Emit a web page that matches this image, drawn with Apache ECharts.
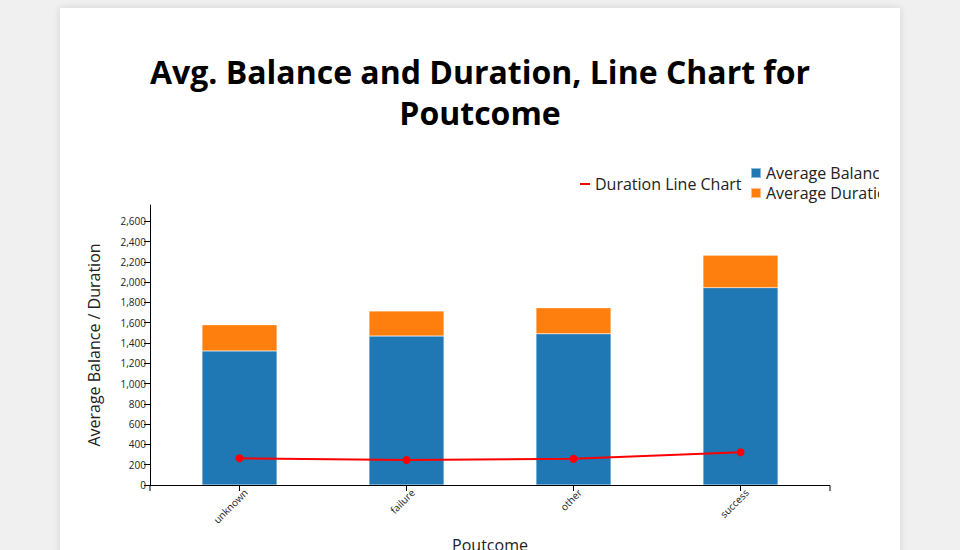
<!DOCTYPE html>
<html><head><meta charset="utf-8">
<script src="https://cdn.jsdelivr.net/npm/echarts@6/dist/echarts.min.js"></script>
<style>
html,body{margin:0;padding:0;width:960px;height:550px;background:#f0f0f0;overflow:hidden;font-family:"Open Sans",sans-serif;}
#card{position:absolute;left:60px;top:8px;width:840px;height:560px;background:#fff;box-shadow:0 0 8px rgba(0,0,0,0.12);}
#chart{position:absolute;left:0;top:0;width:960px;height:550px;}
#clip{position:absolute;left:879px;top:155px;width:21px;height:50px;background:#fff;}
</style></head>
<body>
<div id="card"></div>
<div id="chart"></div>
<div id="clip"></div>
<script>
const categories = ['unknown', 'failure', 'other', 'success'];
const avgBalance = [1322, 1468, 1490, 1945];
const avgDuration = [257, 247, 256, 319];
const durationLine = [263, 246, 258, 322];
const yTicksMax = 2760;

const chart = echarts.init(document.getElementById('chart'), null, {renderer: 'svg'});
const font = '"Open Sans", sans-serif';
chart.setOption({
  backgroundColor: 'transparent',
  animation: false,
  title: {
    text: 'Avg. Balance and Duration, Line Chart for\nPoutcome',
    left: 'center', top: 46,
    textStyle: {fontFamily: font, fontWeight: 'bold', fontSize: 32, lineHeight: 41, color: '#000'}
  },
  legend: [
    {
      data: [{name: 'Duration Line Chart', icon: 'path://M0,0 L10,0 L10,2 L0,2 Z'}],
      left: 575, top: 171, itemWidth: 10, itemHeight: 2, itemGap: 5,
      textStyle: {fontFamily: font, fontSize: 16, color: '#222'}
    },
    {
      data: ['Average Balance', 'Average Duration'],
      orient: 'vertical', left: 745, top: 160, itemWidth: 10, itemHeight: 10, itemGap: 4,
      icon: 'rect',
      textStyle: {fontFamily: font, fontSize: 16, color: '#222'}
    }
  ],
  grid: {left: 156, right: 136, top: 205, bottom: 65, containLabel: false, outerBoundsMode: 'none'},
  xAxis: {
    type: 'category', data: categories,
    name: 'Poutcome', nameLocation: 'middle', nameGap: 52,
    nameTextStyle: {fontFamily: font, fontSize: 16, color: '#222'},
    axisLine: {show: false},
    axisTick: {show: true, alignWithLabel: true, length: 6, lineStyle: {color: '#000'}},
    axisLabel: {rotate: 45, fontFamily: font, fontSize: 10, color: '#222', margin: 12, padding: [12, -9, 0, 0]}
  },
  yAxis: {
    type: 'value', min: 0, max: yTicksMax, interval: 200, offset: 6,
    name: 'Average Balance / Duration', nameLocation: 'middle', nameGap: 48,
    nameTextStyle: {fontFamily: font, fontSize: 16, color: '#222'},
    axisLine: {show: true, lineStyle: {color: '#000'}},
    axisTick: {show: true, length: 6, lineStyle: {color: '#000'}},
    axisLabel: {fontFamily: font, fontSize: 10, color: '#222', margin: 4, showMaxLabel: false},
    splitLine: {show: false}
  },
  graphic: [{
    type: 'polyline', silent: true, z: 10,
    shape: {points: [[150, 491], [150, 485.5], [830, 485.5], [830, 491]]},
    style: {stroke: '#000', lineWidth: 1, fill: null}
  }],
  series: [
    {name: 'Average Balance', type: 'bar', stack: 'a', data: avgBalance, barWidth: 75,
     itemStyle: {color: '#1f77b4', borderColor: 'rgba(255,255,255,0.5)', borderWidth: 0.5}},
    {name: 'Average Duration', type: 'bar', stack: 'a', data: avgDuration, barWidth: 75,
     itemStyle: {color: '#ff7f0e', borderColor: 'rgba(255,255,255,0.5)', borderWidth: 0.5}},
    {name: 'Duration Line Chart', type: 'line', data: durationLine, z: 5,
     symbol: 'circle', symbolSize: 8, lineStyle: {color: 'red', width: 2},
     itemStyle: {color: 'red'}}
  ]
});
</script>
</body></html>
